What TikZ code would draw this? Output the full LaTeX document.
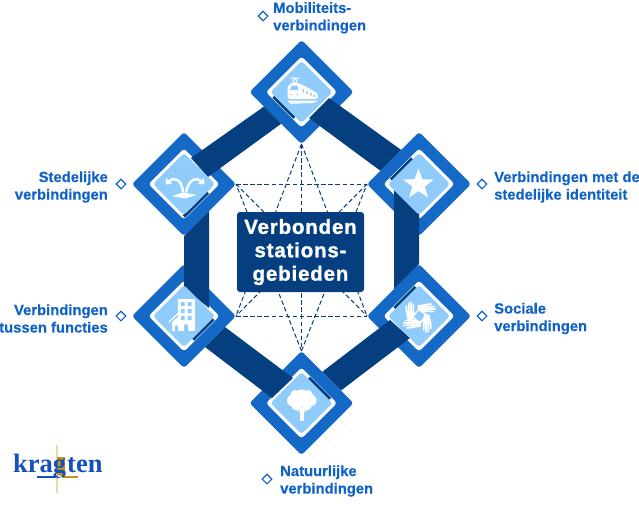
\documentclass[tikz,border=0pt]{standalone}
\usepackage{fontspec}
\setmainfont{Liberation Sans}
\newfontfamily\logofont{Liberation Serif}
\newfontface\hubfont{Liberation Sans Bold}[LetterSpace=4,FakeBold=1.2]
\newfontface\labfont{Liberation Sans Bold}[FakeBold=0.3]
\usetikzlibrary{shapes.geometric,arrows.meta}
\definecolor{midblue}{HTML}{1468C6}
\definecolor{lightblue}{HTML}{90CCFB}
\definecolor{darkblue}{HTML}{053F80}
\definecolor{textblue}{HTML}{1063C6}
\definecolor{logoblue}{HTML}{1450C0}
\definecolor{gold}{HTML}{C2921C}
\tikzset{
  web/.style={draw=darkblue,line width=1pt,dash pattern=on 4.5pt off 2.6pt},
  bar/.style={fill=darkblue},
  strip/.style={draw=darkblue,line width=3.2pt},
  lab/.style={text=textblue,font=\labfont\fontsize{14.8}{17.5}\selectfont,inner sep=0pt},
  marker/.style={diamond,draw=textblue,line width=1.1pt,inner sep=0pt,minimum size=10pt,fill=white},
  ic/.style={fill=white},
}
\newcommand{\dia}[4]{\fill[#4,rounded corners=3pt] (#1-#3,#2)--(#1,#2-#3)--(#1+#3,#2)--(#1,#2+#3)--cycle;}
\newcommand{\tiers}[2]{\dia{#1}{#2}{52}{midblue}\dia{#1}{#2}{35.5}{white}}
\begin{document}
\begin{tikzpicture}[x=1pt,y=-1pt]
\useasboundingbox (0,0) rectangle (639,507);
\coordinate (tb) at (301.5,144);
\coordinate (bt) at (301.5,351);
\coordinate (ulr) at (236,184);
\coordinate (url) at (367,184);
\coordinate (llr) at (236,316);
\coordinate (lrl) at (367,316);
\draw[web] (ulr)--(url);
\draw[web] (llr)--(lrl);
\draw[web] (tb)--(bt);
\draw[web] (tb)--(llr);
\draw[web] (tb)--(lrl);
\draw[web] (bt)--(ulr);
\draw[web] (bt)--(url);
\draw[web] (ulr)--(lrl);
\draw[web] (url)--(llr);
\node[fill=darkblue,rounded corners=3pt,minimum width=127pt,minimum height=80pt,inner sep=0pt,text=white,align=center,font=\hubfont\fontsize{20.5}{23.4}\selectfont] (hub) at (300.5,252) {Verbonden\\stations-\\gebieden};
\tiers{301.5}{92}
\tiers{184}{184}
\tiers{419}{184}
\tiers{184}{316}
\tiers{419}{316}
\tiers{301.5}{403}
% bars
\fill[bar] (191,158)--(208,177)--(281.2,123.7)--(264,106.5)--cycle;
\fill[bar] (309,118)--(329,98)--(401.1,149.9)--(380.3,170.7)--cycle;
\fill[bar] (394,189)--(419,214)--(419,264)--(394,289)--cycle;
\fill[bar] (390,320)--(410,338)--(341.1,390.4)--(322.4,371.7)--cycle;
\fill[bar] (293,378)--(272,398)--(205,347)--(225,327)--cycle;
\fill[bar] (184,288)--(209,308)--(209,211)--(184,236)--cycle;
% strips
\draw[strip] (273.5,96.5)--(294.5,117.5);
\draw[strip] (391,179.5)--(412,158.5);
\draw[strip] (394.5,308)--(415.5,287);
\draw[strip] (309,377.8)--(330,398.8);
\draw[strip] (193,339.5)--(213.5,319);
\draw[strip] (184,216.5)--(208,192.5);
% light
\dia{301.5}{92}{31}{lightblue}
\dia{184}{184}{31}{lightblue}
\dia{419}{184}{31}{lightblue}
\dia{184}{316}{31}{lightblue}
\dia{419}{316}{31}{lightblue}
\dia{301.5}{403}{31}{lightblue}
% train icon
\draw[white,line width=1pt] (290.5,78)--(299.5,78) (295,78)--(293,81)--(295,84) (295,78)--(297,81)--(295,84);
\fill[ic,rounded corners=2.5pt] (287.5,99)--(287.5,88)--(290,83)--(298,83)--(302,84.5)--(318,93.5)--(318,99)--cycle;
\fill[lightblue] (291.5,85.5)--(297.5,85.5)--(298.5,90)--(290,90)--cycle;
\fill[lightblue] (302.5,89) rectangle (304,92.5) (306.3,91) rectangle (307.8,94) (310,93) rectangle (311.5,95.5) (313.6,94.8) rectangle (315,96.8);
\fill[lightblue] (291,94.5) circle (0.9pt) (297.5,94.5) circle (0.9pt);
\fill[ic] (287,100.5)--(318.5,100.5)--(313,103)--(291,103.8)--cycle;
% star
\node[star,star points=5,star point ratio=2.45,fill=white,inner sep=0pt,minimum size=32pt] (starIcon) at (418.5,184.5) {};
% fountain icon
\fill[ic] (172,196)--(183,192.5)--(197,195)--(185,198.5)--cycle;
\draw[white,line width=2.4pt,-{Triangle[length=5pt,width=8pt]}] (183,192.5) .. controls (182,178) and (173,177) .. (165.5,184.5);
\draw[white,line width=2.4pt,-{Triangle[length=5pt,width=8pt]}] (186,192.5) .. controls (189,178) and (197,177) .. (204.5,184.5);
% building icon
\fill[ic] (178,299) rectangle (195,331);
\fill[ic] (172,331)--(172,322)--(178,317)--(178,331)--cycle;
\draw[white,line width=1.2pt] (169,322)--(178,313.5);
\foreach \yy in {302,309,316}{\fill[lightblue] (181,\yy) rectangle (184.5,\yy+4) (187.5,\yy) rectangle (191.5,\yy+4);}
\fill[lightblue] (175,331) -- (175,326.5) arc[start angle=180,end angle=0,radius=1.5pt] -- (178,331)--cycle;
\fill[lightblue] (184,331) -- (184,326) arc[start angle=180,end angle=0,radius=2pt] -- (188,331)--cycle;
% hands icon
\foreach \ang/\hx/\hy in {0/410/320, -90/417.5/308, 180/427/314.5, 90/421/324}{
 \begin{scope}[shift={(\hx,\hy)},rotate=\ang]
  \fill[ic,rounded corners=1pt] (-2.8,0)--(-4,-9)--(4,-9)--(4,-5)--(2.8,0)--cycle;
  \draw[white,line width=1.7pt,line cap=round] (-3.4,-8)--(-3.9,-14) (-1.2,-8)--(-1.4,-17) (1,-8)--(1,-17.5) (3.2,-8)--(3.4,-15.5) (3,-4)--(7,-8.5);
 \end{scope}}
% tree icon
\fill[ic] (301.5,398) circle (8.5pt) (293,400.5) circle (6pt) (310.5,400.5) circle (6pt) (296.5,405) circle (5.5pt) (306.5,405) circle (5.5pt) (295,394.5) circle (4.5pt) (308,394.5) circle (4.5pt);
\fill[ic] (300,408) rectangle (304,420.5);
\draw[white,line width=1pt] (297,409)--(301,413) (307,409)--(303,413);
% markers and labels
\node[marker] (m1) at (263,16) {};
\node[lab,anchor=north west,align=left] (l1) at (273,2) {Mobiliteits-\\verbindingen};
\node[marker] (m2) at (482,184) {};
\node[lab,anchor=west,align=left] (l2) at (494,187) {Verbindingen met de\\stedelijke identiteit};
\node[marker] (m3) at (482,316) {};
\node[lab,anchor=west,align=left] (l3) at (494,318.5) {Sociale\\verbindingen};
\node[marker] (m4) at (267,479) {};
\node[lab,anchor=west,align=left] (l4) at (280,481) {Natuurlijke\\verbindingen};
\node[marker] (m5) at (121,184) {};
\node[lab,anchor=east,align=right] (l5) at (108,187) {Stedelijke\\verbindingen};
\node[marker] (m6) at (121,316) {};
\node[lab,anchor=east,align=right] (l6) at (108,318.5) {Verbindingen\\tussen functies};
% logo
\fill[gold!35] (56,445) rectangle (57.5,493);
\fill[gold] (57,457) rectangle (64.5,478);
\fill[gold] (64,476.3) rectangle (78,478);
\fill[logoblue] (37,476.3) rectangle (56,478);
\node[anchor=base west,inner sep=0pt,text=logoblue,font=\logofont\fontsize{26.5}{27}\selectfont\bfseries] (logoA) at (13,472) {krag};
\node[anchor=base west,inner sep=0pt,text=logoblue,font=\logofont\fontsize{26.5}{27}\selectfont\bfseries] (logoB) at (67,472) {ten};
\draw[white,line width=1.3pt] (58,475.5) .. controls (64,477) and (64,483) .. (57.5,483);
\end{tikzpicture}
\end{document}
